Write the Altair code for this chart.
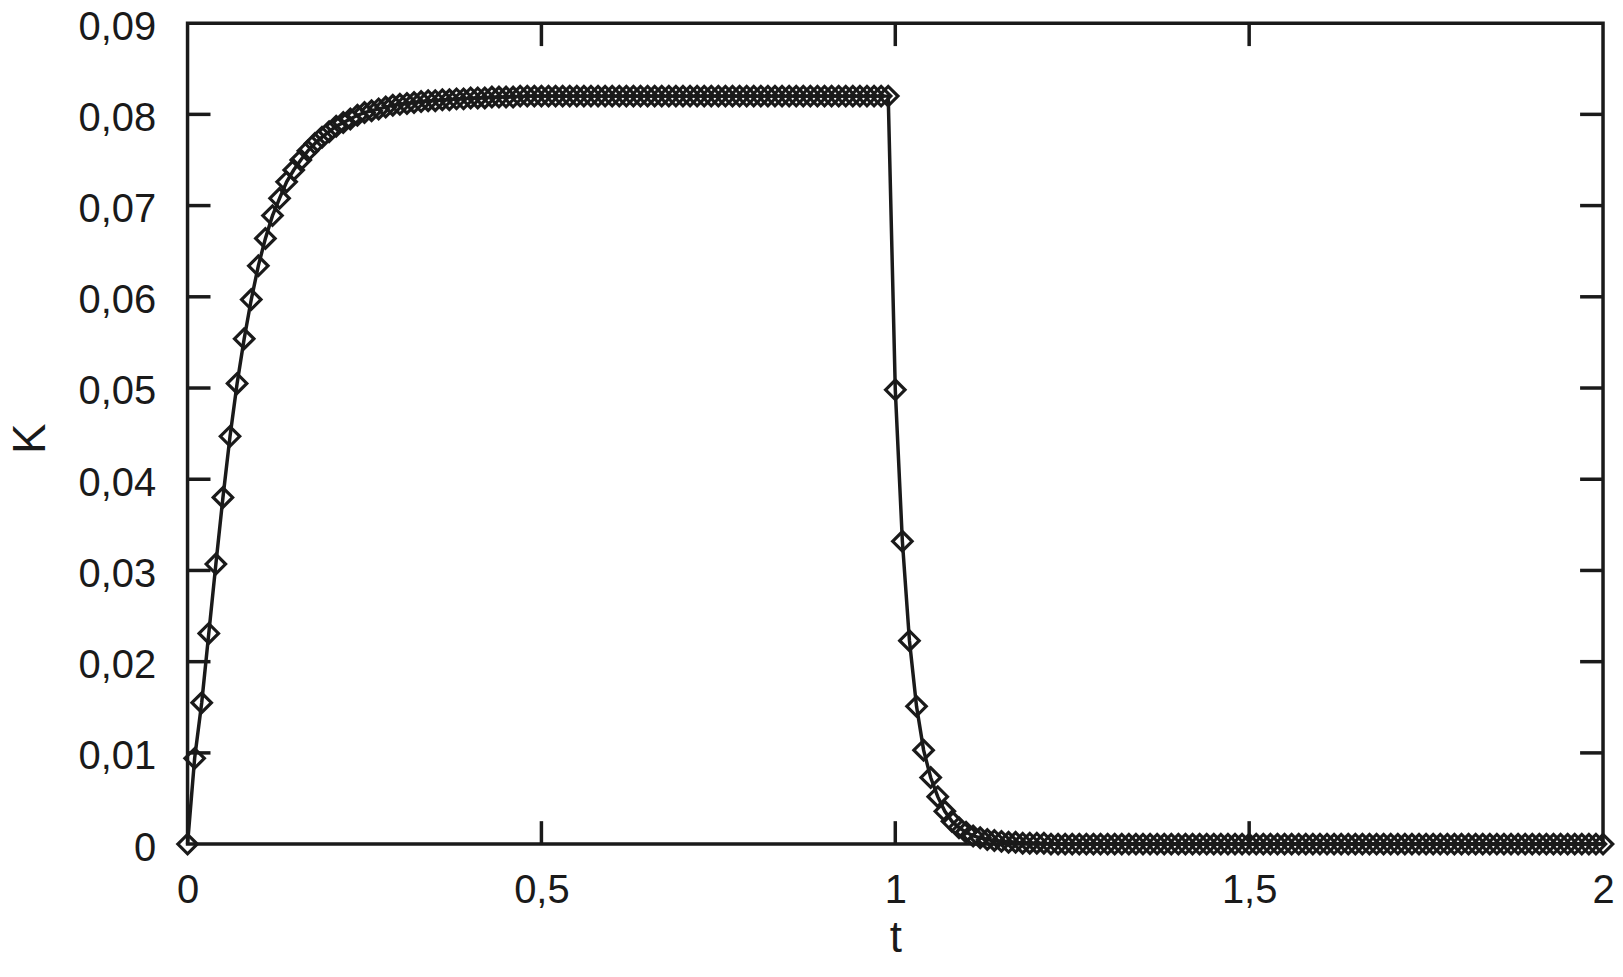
import altair as alt
import pandas as pd

# ---- data (one sample every 0.01 in t) ----
t_values = [round(i * 0.01, 2) for i in range(201)]

K_values = [
    # t = 0.00 - 0.09
    0.0000, 0.0094, 0.0155, 0.0231, 0.0307, 0.0380, 0.0447, 0.0505, 0.0554, 0.0597,
    # t = 0.10 - 0.19
    0.0634, 0.0664, 0.0689, 0.0708, 0.0726, 0.0739, 0.0750, 0.0760, 0.0768, 0.0775,
    # t = 0.20 - 0.29
    0.0781, 0.0787, 0.0791, 0.0795, 0.0799, 0.0802, 0.0804, 0.0806, 0.0808, 0.0810,
    # t = 0.30 - 0.39
    0.0811, 0.0812, 0.0813, 0.0814, 0.0815, 0.0815, 0.0816, 0.0816, 0.0817, 0.0817,
    # t = 0.40 - 0.49
    0.0818, 0.0818, 0.0818, 0.0819, 0.0819, 0.0819, 0.0819, 0.0820, 0.0820, 0.0820,
    # t = 0.50 - 0.59
    0.0820, 0.0820, 0.0820, 0.0820, 0.0820, 0.0820, 0.0820, 0.0820, 0.0820, 0.0820,
    # t = 0.60 - 0.69
    0.0820, 0.0820, 0.0820, 0.0820, 0.0820, 0.0820, 0.0820, 0.0820, 0.0820, 0.0820,
    # t = 0.70 - 0.79
    0.0820, 0.0820, 0.0820, 0.0820, 0.0820, 0.0820, 0.0820, 0.0820, 0.0820, 0.0820,
    # t = 0.80 - 0.89
    0.0820, 0.0820, 0.0820, 0.0820, 0.0820, 0.0820, 0.0820, 0.0820, 0.0820, 0.0820,
    # t = 0.90 - 0.99
    0.0820, 0.0820, 0.0820, 0.0820, 0.0820, 0.0820, 0.0820, 0.0820, 0.0820, 0.0820,
    # t = 1.00 - 1.09
    0.0498, 0.0332, 0.0223, 0.0151, 0.0103, 0.0073, 0.0052, 0.0036, 0.0025, 0.0018,
    # t = 1.10 - 1.19
    0.0013, 0.0009, 0.0007, 0.0005, 0.0004, 0.0003, 0.0002, 0.0002, 0.0001, 0.0001,
    # t = 1.20 - 1.29
    0.0001, 0.0001, 0.0000, 0.0000, 0.0000, 0.0000, 0.0000, 0.0000, 0.0000, 0.0000,
    # t = 1.30 - 1.39
    0.0000, 0.0000, 0.0000, 0.0000, 0.0000, 0.0000, 0.0000, 0.0000, 0.0000, 0.0000,
    # t = 1.40 - 1.49
    0.0000, 0.0000, 0.0000, 0.0000, 0.0000, 0.0000, 0.0000, 0.0000, 0.0000, 0.0000,
    # t = 1.50 - 1.59
    0.0000, 0.0000, 0.0000, 0.0000, 0.0000, 0.0000, 0.0000, 0.0000, 0.0000, 0.0000,
    # t = 1.60 - 1.69
    0.0000, 0.0000, 0.0000, 0.0000, 0.0000, 0.0000, 0.0000, 0.0000, 0.0000, 0.0000,
    # t = 1.70 - 1.79
    0.0000, 0.0000, 0.0000, 0.0000, 0.0000, 0.0000, 0.0000, 0.0000, 0.0000, 0.0000,
    # t = 1.80 - 1.89
    0.0000, 0.0000, 0.0000, 0.0000, 0.0000, 0.0000, 0.0000, 0.0000, 0.0000, 0.0000,
    # t = 1.90 - 2.00
    0.0000, 0.0000, 0.0000, 0.0000, 0.0000, 0.0000, 0.0000, 0.0000, 0.0000, 0.0000,
    0.0000,
]

x_ticks = [0, 0.5, 1, 1.5, 2]
y_ticks = [0, 0.01, 0.02, 0.03, 0.04, 0.05, 0.06, 0.07, 0.08, 0.09]
x_inner_ticks = [0.5, 1, 1.5]
y_inner_ticks = [0.01, 0.02, 0.03, 0.04, 0.05, 0.06, 0.07, 0.08]

# ---- styling ----
W, H = 1419, 823
FONT = "Liberation Sans"
INK = "#1a1a1a"
TICK_LEN = 23

df = pd.DataFrame({"t": t_values, "K": K_values})

xs = alt.Scale(domain=[0, 2], nice=False, zero=False)
ys = alt.Scale(domain=[0, 0.09], nice=False, zero=False)

x_axis = alt.Axis(
    values=x_ticks,
    labelExpr="replace('' + datum.value, '.', ',')",
    ticks=False, tickSize=0, domain=False, grid=False,
    labelFlush=False, labelOverlap=False,
    labelPadding=27, labelFontSize=40, labelFont=FONT, labelColor=INK,
    title="t", titleFontSize=44, titleFont=FONT, titleFontWeight="normal",
    titleColor=INK, titleX=W / 2, titleY=108, titleBaseline="alphabetic",
    titleAlign="center",
)
y_axis = alt.Axis(
    values=y_ticks,
    labelExpr="datum.value == 0 ? '0' : replace(format(datum.value, '.2f'), '.', ',')",
    ticks=False, tickSize=0, domain=False, grid=False,
    labelFlush=False, labelOverlap=False, labelOffset=4,
    labelPadding=32, labelFontSize=40, labelFont=FONT, labelColor=INK,
    title="K", titleFontSize=46, titleFont=FONT, titleFontWeight="normal",
    titleColor=INK, titleX=-157, titleY=416, titleAngle=270,
    titleBaseline="middle", titleAlign="center",
)

X = alt.X("t:Q", scale=xs, axis=x_axis)
Y = alt.Y("K:Q", scale=ys, axis=y_axis)

line = alt.Chart(df).mark_line(color=INK, strokeWidth=3.5).encode(x=X, y=Y)
points = alt.Chart(df).mark_point(
    shape="diamond", filled=False, size=380, strokeWidth=3.2, color=INK, opacity=1
).encode(x=X, y=Y)

ydf = pd.DataFrame({"K": y_inner_ticks})
xdf = pd.DataFrame({"t": x_inner_ticks})
rule_style = dict(color=INK, strokeWidth=3.5)

left_ticks = alt.Chart(ydf).mark_rule(**rule_style).encode(
    y=Y, x=alt.value(0), x2=alt.value(TICK_LEN))
right_ticks = alt.Chart(ydf).mark_rule(**rule_style).encode(
    y=Y, x=alt.value(W - TICK_LEN), x2=alt.value(W))
top_ticks = alt.Chart(xdf).mark_rule(**rule_style).encode(
    x=X, y=alt.value(0), y2=alt.value(TICK_LEN))
bottom_ticks = alt.Chart(xdf).mark_rule(**rule_style).encode(
    x=X, y=alt.value(H - TICK_LEN), y2=alt.value(H))

chart = alt.layer(
    left_ticks, right_ticks, top_ticks, bottom_ticks, line, points
).properties(
    width=W, height=H,
    padding={"left": 180, "top": 14, "right": 12, "bottom": 118},
    autosize=alt.AutoSizeParams(type="none"),
    background="white",
).configure_view(stroke=INK, strokeWidth=3.5)

chart.save("out.html", embed_options={"renderer": "svg", "actions": False})
